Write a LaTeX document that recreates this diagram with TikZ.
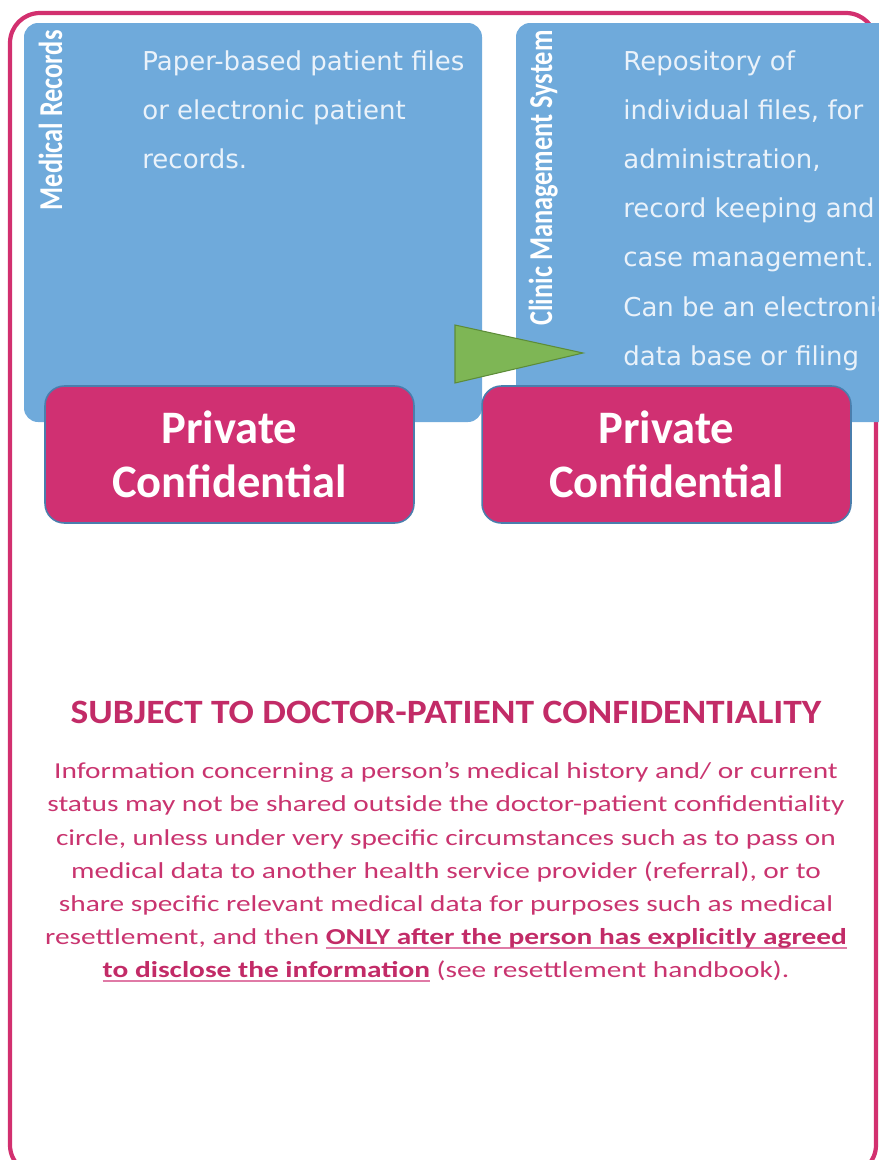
\documentclass[tikz,border=0pt]{standalone}
\usepackage{fontspec}
\setmainfont{Carlito}
\newfontfamily\notefont{DejaVu Sans}
\usepackage{graphicx}
\definecolor{framepink}{HTML}{D2306F}
\definecolor{privpink}{HTML}{D03072}
\definecolor{edgeblue}{HTML}{4A7EAD}
\definecolor{recblue}{HTML}{6FAADB}
\definecolor{notewhite}{HTML}{EAF2FA}
\definecolor{arrowgreen}{HTML}{7EB655}
\definecolor{arrowedge}{HTML}{5D8C38}
\definecolor{headpink}{HTML}{C22B67}
\definecolor{textpink}{HTML}{C9346F}
\definecolor{ulpink}{HTML}{E07AA6}
\newcommand\pinkul[1]{\setbox0\hbox{#1}\rlap{\textcolor{ulpink}{\rule[-2.5pt]{\wd0}{1.1pt}}}\box0\relax}
\begin{document}
\begin{tikzpicture}[x=0.02cm,y=-0.02cm,
  recbox/.style={fill=recblue, rounded corners=8pt},
  privbox/.style={draw=edgeblue, fill=privpink, line width=0.9pt, rounded corners=11pt, minimum width=7.38cm, minimum height=2.74cm, text=white, align=center, font=\bfseries\fontsize{26.5}{31}\selectfont},
  sidelabel/.style={rotate=90, anchor=base east, inner sep=0pt, text=white, font=\bfseries\fontsize{19}{22}\selectfont},
  notetext/.style={anchor=north west, inner sep=0pt, align=left, text=notewhite, font=\notefont\fontsize{14.8}{28}\selectfont}]
\clip (0,0) rectangle (879,1160);
\draw[framepink, line width=2.4pt, rounded corners=0.6cm] (10,13) rectangle (876,1175);
\fill[recbox] (24,23) rectangle (482,422);
\fill[recbox] (516,23) rectangle (920,422);
\node[sidelabel] (medlabel) at (62,30) {\scalebox{0.79}[1]{Medical Records}};
\node[sidelabel] (cmslabel) at (552,30) {\scalebox{0.79}[1]{Clinic Management System}};
\node[notetext] (mednote) at (142,50) {Paper-based patient files\\or electronic patient\\records.};
\node[notetext] (cmsnote) at (623,50) {Repository of\\individual files, for\\administration,\\record keeping and\\case management.\\Can be an electronic\\data base or filing\\cabinet structure.};
\filldraw[fill=arrowgreen, draw=arrowedge, line width=0.6pt] (455,325) -- (455,383) -- (583,353) -- cycle;
\node[privbox] (medpriv) at (229.5,454.5) {Private\\Confidential};
\node[privbox] (cmspriv) at (666.5,454.5) {Private\\Confidential};
\node[anchor=base, inner sep=0pt, text=headpink, font=\bfseries\fontsize{19.4}{23}\selectfont] (subject) at (446,723) {\scalebox{1.1}[1]{SUBJECT TO DOCTOR-PATIENT CONFIDENTIALITY}};
\node[anchor=north, inner sep=0pt, text=textpink, font=\fontsize{13}{18.9}\selectfont] (ruletext) at (446,755) {\scalebox{1.285}[1]{\begin{tabular}{@{}c@{}}
Information concerning a person’s medical history and/ or current\\
status may not be shared outside the doctor-patient confidentiality\\
circle, unless under very specific circumstances such as to pass on\\
medical data to another health service provider (referral), or to\\
share specific relevant medical data for purposes such as medical\\
resettlement, and then \pinkul{\textbf{\textcolor{headpink}{ONLY after the person has explicitly agreed}}}\\
\pinkul{\textbf{\textcolor{headpink}{to disclose the information}}} (see resettlement handbook).
\end{tabular}}};
\end{tikzpicture}
\end{document}
